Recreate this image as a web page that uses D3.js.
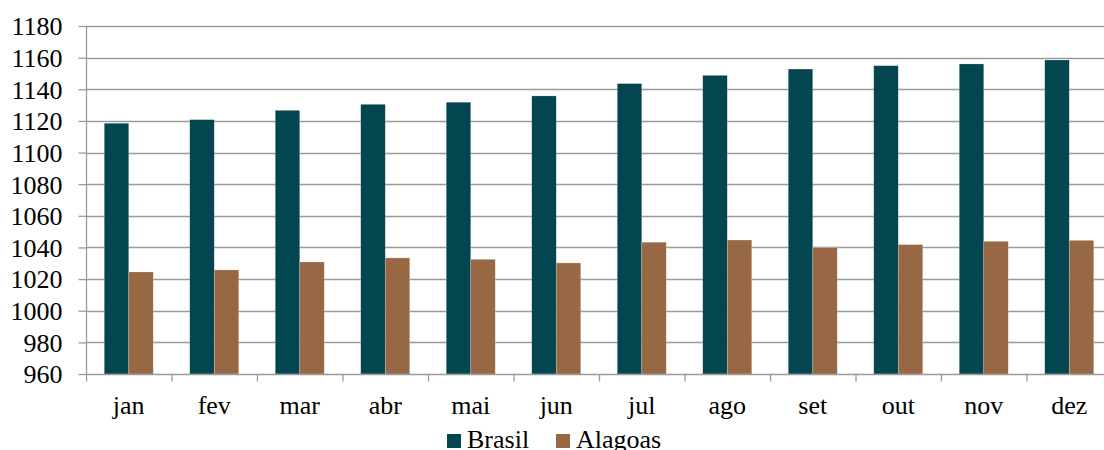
<!DOCTYPE html>
<html>
<head>
<meta charset="utf-8">
<script src="https://cdn.jsdelivr.net/npm/d3@7/dist/d3.min.js"></script>
<style>
  html, body { margin: 0; padding: 0; background: #fff; }
  svg { display: block; }
  svg text { font-family: "Liberation Serif", "Times New Roman", serif; }
</style>
</head>
<body>
<svg id="chart" width="1104" height="450"></svg>
<script>
// Monthly values for Brasil and Alagoas
const months = ["jan", "fev", "mar", "abr", "mai", "jun", "jul", "ago", "set", "out", "nov", "dez"];
const brasil = [1118.5, 1120.8, 1126.7, 1130.5, 1131.8, 1135.8, 1143.6, 1148.8, 1152.8, 1154.9, 1156.0, 1158.5];
const alagoas = [1024.5, 1025.8, 1030.8, 1033.4, 1032.5, 1030.2, 1043.3, 1044.7, 1039.9, 1041.8, 1043.9, 1044.5];
const seriesNames = ["Brasil", "Alagoas"];
const yTicks = [960, 980, 1000, 1020, 1040, 1060, 1080, 1100, 1120, 1140, 1160, 1180];

const colors = { Brasil: "#03464f", Alagoas: "#976843" };
const FONT = "'Liberation Serif', 'Times New Roman', serif";
const FONT_SIZE = 26;

const svg = d3.select("#chart").attr("font-family", FONT);
const plotLeft = 86, plotRight = 1112, plotTop = 26, plotBottom = 374;
const gridColor = "#9a9a9a";

const x = d3.scaleBand().domain(months).range([plotLeft, plotRight]);
const inner = d3.scaleBand().domain(seriesNames).range([0, 49]);
const y = d3.scaleLinear().domain([960, 1180]).range([plotBottom, plotTop]);

// horizontal gridlines
svg.append("g")
  .selectAll("line")
  .data(yTicks.slice(1))
  .join("line")
  .attr("x1", plotLeft).attr("x2", plotRight)
  .attr("y1", d => Math.round(y(d)) + 0.5).attr("y2", d => Math.round(y(d)) + 0.5)
  .attr("stroke", gridColor).attr("stroke-width", 1.3);

// bars
const rows = months.map((m, i) => ({ m, Brasil: brasil[i], Alagoas: alagoas[i] }));
const groups = svg.append("g").selectAll("g")
  .data(rows)
  .join("g")
  .attr("transform", d => `translate(${x(d.m) + (x.bandwidth() - 49) / 2},0)`);

groups.selectAll("rect")
  .data(d => seriesNames.map(s => ({ s, v: d[s] })))
  .join("rect")
  .attr("x", d => inner(d.s))
  .attr("width", inner.bandwidth())
  .attr("y", d => y(d.v))
  .attr("height", d => plotBottom - y(d.v))
  .attr("fill", d => colors[d.s])
  .attr("stroke", "rgba(255,255,255,0.35)")
  .attr("stroke-width", 0.6);

// left axis
const yAxis = d3.axisLeft(y).tickValues(yTicks).tickSize(8).tickPadding(16).tickFormat(d3.format("d"));
const gy = svg.append("g").attr("transform", `translate(${plotLeft + 0.5},0)`).call(yAxis)
  .attr("font-family", FONT).attr("font-size", FONT_SIZE);
gy.select(".domain").attr("stroke", gridColor).attr("stroke-width", 1.3).attr("d", `M0,${plotBottom}V${plotTop}`);
gy.selectAll(".tick line").attr("stroke", gridColor).attr("stroke-width", 1.3);
gy.selectAll(".tick text").attr("fill", "#000").attr("dy", "0.34em");

// bottom axis with ticks on band boundaries
const gx = svg.append("g").attr("transform", `translate(0,${plotBottom + 0.5})`);
gx.append("line").attr("x1", plotLeft).attr("x2", plotRight).attr("stroke", gridColor).attr("stroke-width", 1.3);
gx.selectAll("line.tk")
  .data(months)
  .join("line")
  .attr("class", "tk")
  .attr("x1", d => x(d) + 0.5)
  .attr("x2", d => x(d) + 0.5)
  .attr("y1", 0).attr("y2", 7)
  .attr("stroke", gridColor).attr("stroke-width", 1.3);
gx.selectAll("text")
  .data(months)
  .join("text")
  .attr("x", d => x(d) + x.bandwidth() / 2)
  .attr("y", 39)
  .attr("text-anchor", "middle")
  .attr("font-family", FONT)
  .attr("font-size", FONT_SIZE)
  .attr("fill", "#000")
  .text(d => d);

// legend
const legend = svg.append("g");
const legendItems = [
  { name: "Brasil", sx: 447, tx: 467 },
  { name: "Alagoas", sx: 556, tx: 576 }
];
legend.selectAll("rect")
  .data(legendItems)
  .join("rect")
  .attr("x", d => d.sx).attr("y", 434)
  .attr("width", 14).attr("height", 14)
  .attr("fill", d => colors[d.name]);
legend.selectAll("text")
  .data(legendItems)
  .join("text")
  .attr("x", d => d.tx).attr("y", 448)
  .attr("font-family", FONT)
  .attr("font-size", FONT_SIZE)
  .attr("fill", "#000")
  .text(d => d.name);
</script>
</body>
</html>
